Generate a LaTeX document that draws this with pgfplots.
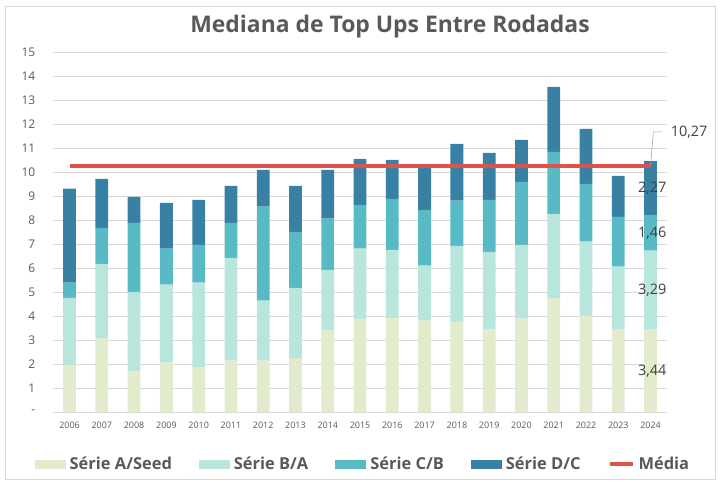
\documentclass[border=0pt]{standalone}
\usepackage{fontspec}
\setmainfont{Open Sans}
\usepackage{pgfplots}
\pgfplotsset{compat=1.18}
\usepackage{pgfplotstable}
\definecolor{cA}{HTML}{E2EBCB}
\definecolor{cB}{HTML}{B8E6DC}
\definecolor{cC}{HTML}{57BAC4}
\definecolor{cD}{HTML}{3881A5}
\definecolor{cM}{HTML}{E0514A}
\definecolor{txt}{HTML}{595959}
\definecolor{lab}{HTML}{404040}
\definecolor{grd}{HTML}{D9D9D9}
\pgfplotsset{barleg/.style={legend image code/.code={\fill[##1] (0bp,-4.5bp) rectangle (31bp,4.5bp);}},
  lineleg/.style={legend image code/.code={\draw[##1] (0bp,0bp) -- (23bp,0bp);}}}
\pgfplotstableread{
x A B C D
0 1.97 2.79 0.63 3.92
1 3.06 3.12 1.50 2.04
2 1.72 3.29 2.88 1.08
3 2.06 3.25 1.50 1.91
4 1.85 3.54 1.58 1.88
5 2.14 4.29 1.46 1.54
6 2.14 2.50 3.92 1.54
7 2.26 2.92 2.33 1.92
8 3.39 2.54 2.13 2.04
9 3.85 2.96 1.83 1.92
10 3.93 2.83 2.13 1.62
11 3.81 2.29 2.33 1.79
12 3.76 3.17 1.88 2.37
13 3.47 3.21 2.17 1.96
14 3.89 3.08 2.63 1.75
15 4.76 3.50 2.59 2.71
16 4.01 3.09 2.41 2.30
17 3.47 2.59 2.08 1.71
18 3.44 3.29 1.46 2.27
}\datatable
\begin{document}
\begin{tikzpicture}
\useasboundingbox (0,0) rectangle (720bp,483bp);
\draw[grd] (5bp,4bp) rectangle (715bp,477bp);
\node[anchor=base, text=txt, font=\fontsize{23}{27}\selectfont\bfseries] at (390bp,450bp) {Mediana de Top Ups Entre Rodadas};
\begin{axis}[
  at={(53.4bp,71bp)}, anchor=south west,
  scale only axis, width=613.3bp, height=359.7bp,
  ybar stacked, bar width=12.8bp,
  xmin=-0.5, xmax=18.5, ymin=0, ymax=15,
  xtick={0,...,18},
  xticklabels={2006,2007,2008,2009,2010,2011,2012,2013,2014,2015,2016,2017,2018,2019,2020,2021,2022,2023,2024},
  ytick={0,...,15},
  yticklabels={-,1,2,3,4,5,6,7,8,9,10,11,12,13,14,15},
  major tick length=0,
  axis x line*=bottom, axis y line*=left,
  y axis line style={draw=none},
  x axis line style={draw=grd, line width=0.8pt},
  ymajorgrids, grid style={grd, line width=0.8pt},
  xticklabel style={font=\fontsize{9}{10}\selectfont, text=txt, inner sep=0pt, yshift=-10bp},
  yticklabel style={font=\fontsize{12}{14}\selectfont, text=txt, inner sep=0pt, xshift=-18bp},
  clip=false,
  legend columns=5,
  legend style={at={(0.503,-0.1446)}, anchor=center, draw=none, fill=none,
    font=\fontsize{16.5}{18}\selectfont\bfseries, text=txt,
    /tikz/every odd column/.append style={column sep=4bp},
    /tikz/every even column/.append style={column sep=27bp},
    nodes={inner sep=0pt}},
  legend cell align=left,
]
\addplot[fill=cA, draw=none, barleg] table[x=x, y=A] {\datatable};
\addlegendentry{Série A/Seed}
\addplot[fill=cB, draw=none, barleg] table[x=x, y=B] {\datatable};
\addlegendentry{Série B/A}
\addplot[fill=cC, draw=none, barleg] table[x=x, y=C] {\datatable};
\addlegendentry{Série C/B}
\addplot[fill=cD, draw=none, barleg] table[x=x, y=D] {\datatable};
\addlegendentry{Série D/C}
\addlegendimage{draw=cM, line width=4bp, lineleg}
\addlegendentry{Média}
\end{axis}
\begin{axis}[
  at={(53.4bp,71bp)}, anchor=south west,
  scale only axis, width=613.3bp, height=359.7bp,
  xmin=-0.5, xmax=18.5, ymin=0, ymax=15,
  hide axis, clip=false,
]
\addplot[draw=cM, line width=4bp, mark=none] coordinates {(0,10.27) (18,10.27)};
\draw[gray!70, line width=0.6pt] (axis cs:18,10.27) -- (axis cs:18.087,11.68) -- (axis cs:18.35,11.68);
\node[anchor=west, text=lab, font=\fontsize{14.5}{16}\selectfont, inner sep=0pt] at (axis cs:18.62,11.68) {10,27};
\node[text=lab, font=\fontsize{14.5}{16}\selectfont, inner sep=0pt] at (axis cs:18.05,1.72) {3,44};
\node[text=lab, font=\fontsize{14.5}{16}\selectfont, inner sep=0pt] at (axis cs:18.05,5.085) {3,29};
\node[text=lab, font=\fontsize{14.5}{16}\selectfont, inner sep=0pt] at (axis cs:18.05,7.46) {1,46};
\node[text=lab, font=\fontsize{14.5}{16}\selectfont, inner sep=0pt] at (axis cs:18.05,9.325) {2,27};
\end{axis}
\end{tikzpicture}
\end{document}
